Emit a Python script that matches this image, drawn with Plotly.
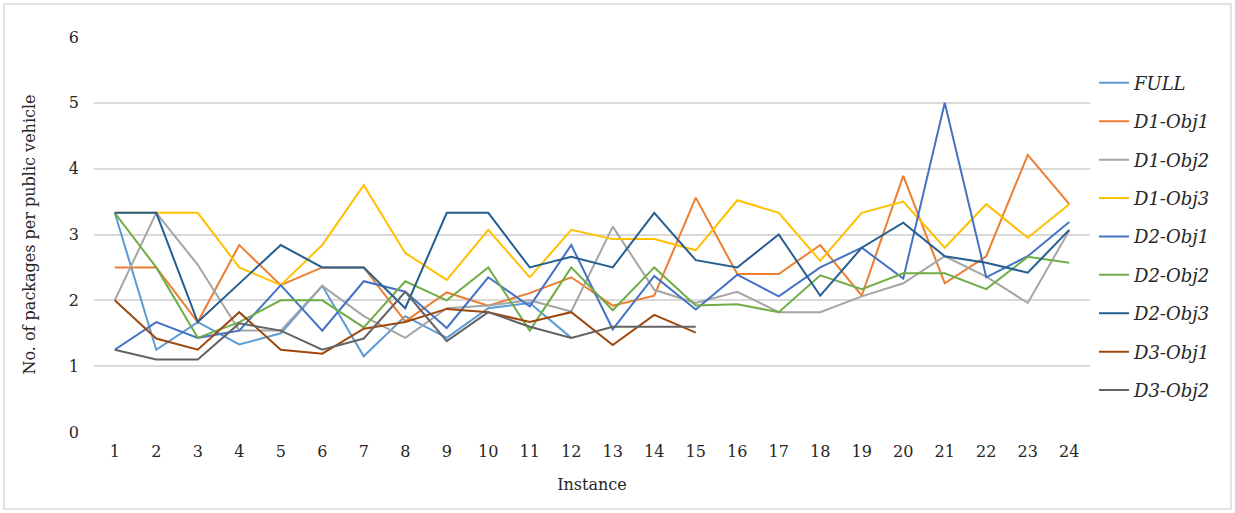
import plotly.graph_objects as go

instances = list(range(1, 25))

FULL = [3.33, 1.25, 1.67, 1.33, 1.5, 2.22, 1.15, 1.76, 1.43, 1.88, 1.96, 1.43]
D1_Obj1 = [2.5, 2.5, 1.67, 2.84, 2.23, 2.5, 2.5, 1.68, 2.12, 1.92, 2.11, 2.35,
           1.92, 2.07, 3.56, 2.4, 2.4, 2.84, 2.07, 3.89, 2.26, 2.67, 4.21, 3.46]
D1_Obj2 = [2.0, 3.33, 2.54, 1.54, 1.54, 2.22, 1.76, 1.43, 1.88, 1.92, 2.0, 1.83,
           3.12, 2.16, 1.96, 2.13, 1.82, 1.82, 2.06, 2.26, 2.67, 2.36, 1.96, 3.06]
D1_Obj3 = [3.33, 3.33, 3.33, 2.5, 2.23, 2.84, 3.75, 2.72, 2.31, 3.07, 2.35, 3.07,
           2.93, 2.93, 2.76, 3.52, 3.33, 2.6, 3.33, 3.5, 2.8, 3.46, 2.95, 3.46]
D2_Obj1 = [1.25, 1.67, 1.43, 1.54, 2.23, 1.54, 2.29, 2.13, 1.58, 2.35, 1.91, 2.84,
           1.56, 2.37, 1.86, 2.39, 2.06, 2.5, 2.8, 2.33, 5.0, 2.35, 2.67, 3.19]
D2_Obj2 = [3.33, 2.5, 1.43, 1.67, 2.0, 2.0, 1.59, 2.29, 2.0, 2.5, 1.54, 2.5,
           1.85, 2.5, 1.92, 1.94, 1.82, 2.38, 2.17, 2.41, 2.41, 2.17, 2.66, 2.57]
D2_Obj3 = [3.33, 3.33, 1.67, 2.25, 2.84, 2.5, 2.5, 1.88, 3.33, 3.33, 2.5, 2.66,
           2.5, 3.33, 2.61, 2.5, 3.0, 2.07, 2.8, 3.18, 2.67, 2.57, 2.42, 3.07]
D3_Obj1 = [2.0, 1.42, 1.25, 1.82, 1.25, 1.19, 1.57, 1.67, 1.87, 1.82, 1.67, 1.82,
           1.32, 1.78, 1.51]
D3_Obj2 = [1.25, 1.1, 1.1, 1.65, 1.54, 1.25, 1.42, 2.13, 1.38, 1.82, 1.6, 1.43,
           1.6, 1.6, 1.6]

series = [
    ("FULL", FULL, "#5B9BD5"),
    ("D1-Obj1", D1_Obj1, "#ED7D31"),
    ("D1-Obj2", D1_Obj2, "#A5A5A5"),
    ("D1-Obj3", D1_Obj3, "#FFC000"),
    ("D2-Obj1", D2_Obj1, "#4472C4"),
    ("D2-Obj2", D2_Obj2, "#70AD47"),
    ("D2-Obj3", D2_Obj3, "#255E91"),
    ("D3-Obj1", D3_Obj1, "#9E480E"),
    ("D3-Obj2", D3_Obj2, "#636363"),
]

FONT = "DejaVu Serif"
TXT = "#262626"

fig = go.Figure()
for name, vals, color in series:
    fig.add_trace(go.Scatter(
        x=instances[:len(vals)], y=vals, mode="lines", name=name,
        legendgroup=name,
        line=dict(color=color, width=2),
    ))

W, H = 1235, 513
L, R, T, B = 94, 145, 37, 81
pw = W - L - R
ph = H - T - B

fig.update_layout(
    width=W, height=H,
    margin=dict(l=L, r=R, t=T, b=B),
    paper_bgcolor="white", plot_bgcolor="white",
    font=dict(family=FONT, size=16, color=TXT),
    showlegend=True,
    legend=dict(
        x=1.004, y=0.93, xanchor="left", yanchor="top",
        font=dict(family=FONT, size=18, color=TXT, style="italic"),
        tracegroupgap=12, traceorder="grouped",
        bgcolor="rgba(0,0,0,0)",
    ),
    xaxis=dict(
        range=[0.5, 24.5], tickmode="array", tickvals=instances,
        ticktext=[str(i) for i in instances],
        showgrid=False, zeroline=False, showline=False, ticks="",
        tickfont=dict(family=FONT, size=16, color=TXT),
        ticklabelstandoff=8,
        title=dict(text="Instance", font=dict(family=FONT, size=16, color=TXT), standoff=18),
    ),
    yaxis=dict(
        range=[0, 6], dtick=1, tick0=0,
        showgrid=True, gridcolor="#D9D9D9", gridwidth=1.5,
        zeroline=False, showline=False, ticks="",
        tickfont=dict(family=FONT, size=16, color=TXT),
        ticklabelstandoff=14,
        title=dict(text="No. of packages per public vehicle",
                   font=dict(family=FONT, size=16, color=TXT), standoff=29),
    ),
)

# outer chart border
fig.add_shape(type="rect", xref="paper", yref="paper",
              x0=(4 - L) / pw, x1=(W - 4 - L) / pw,
              y0=-(H - 4 - T - ph) / ph, y1=1 + (T - 4) / ph,
              line=dict(color="#D9D9D9", width=1.5), fillcolor="rgba(0,0,0,0)",
              layer="below")

fig.write_html("out.html", config={"displayModeBar": False},
               post_script="document.body.style.margin='0';document.body.style.overflow='hidden';")
